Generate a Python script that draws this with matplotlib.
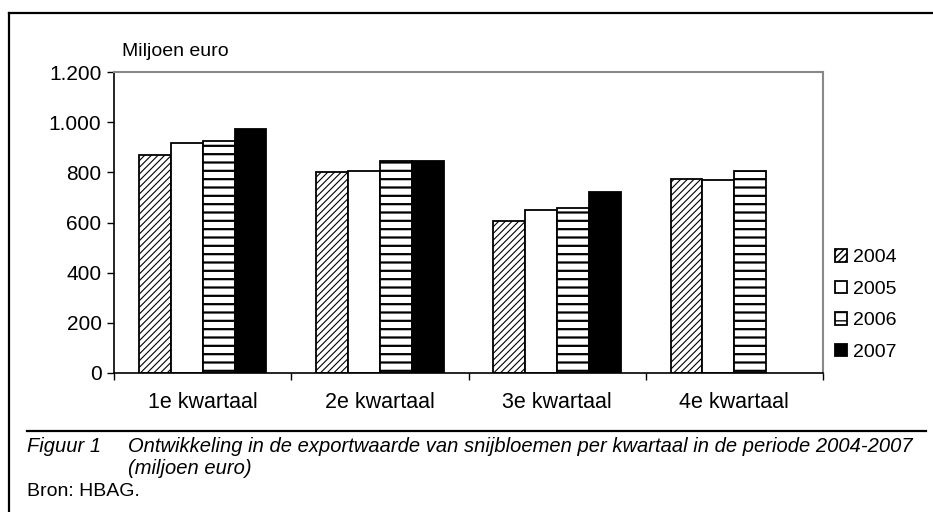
import matplotlib
matplotlib.use("Agg")
import matplotlib.pyplot as plt
from matplotlib.lines import Line2D
import numpy as np

plt.rcParams['font.family'] = ['Liberation Sans', 'DejaVu Sans']

# data (miljoen euro)
quarters = ["1e kwartaal", "2e kwartaal", "3e kwartaal", "4e kwartaal"]
years = ["2004", "2005", "2006", "2007"]
v2004 = [870, 800, 605, 775]
v2005 = [918, 805, 650, 768]
v2006 = [925, 845, 657, 806]
v2007 = [973, 845, 722, np.nan]
yticks = [0, 200, 400, 600, 800, 1000, 1200]
ytick_labels = ["0", "200", "400", "600", "800", "1.000", "1.200"]

series = [v2004, v2005, v2006, v2007]
styles = [
    dict(facecolor="white", hatch="/////", hlw=0.8),
    dict(facecolor="white", hatch=None, hlw=1.0),
    dict(facecolor="white", hatch="--", hlw=1.6),
    dict(facecolor="black", hatch=None, hlw=1.0),
]

W, H = 933, 512
fig = plt.figure(figsize=(W / 100, H / 100), dpi=100)
ax = fig.add_axes([114 / W, 1 - 373 / H, (823 - 114) / W, (373 - 72) / H])

x = np.arange(len(quarters))
bw = 0.18
handles = []
for i, (vals, st) in enumerate(zip(series, styles)):
    with plt.rc_context({'hatch.linewidth': st["hlw"], 'hatch.color': 'black'}):
        bars = ax.bar(x + (i - 1.5) * bw, vals, width=bw, facecolor=st["facecolor"],
                      edgecolor="black", linewidth=1.3, hatch=st["hatch"])
    handles.append(bars)

ax.set_xlim(-0.5, 3.5)
ax.set_ylim(0, 1200)
ax.set_yticks(yticks)
ax.set_yticklabels(ytick_labels, fontsize=15)
ax.set_xticks(x)
ax.set_xticklabels(quarters, fontsize=15.5)
ax.tick_params(axis='x', length=0, pad=14)
ax.tick_params(axis='y', length=5, width=1, direction='out', pad=4)
# category separators on x axis
ax.set_xticks(np.arange(-0.5, 4.0, 1.0), minor=True)
ax.tick_params(axis='x', which='minor', length=5, width=1, direction='out')

for s in ["left", "bottom"]:
    ax.spines[s].set_color("black")
    ax.spines[s].set_linewidth(1.2)
for s in ["top", "right"]:
    ax.spines[s].set_color("#888888")
    ax.spines[s].set_linewidth(1.5)

fig.text(122 / W, 1 - 52 / H, "Miljoen euro", fontsize=14, va="center", ha="left")

leg = ax.legend(handles, years, loc="center left", bbox_to_anchor=(835 / W, 1 - 305 / H),
                bbox_transform=fig.transFigure, frameon=False, fontsize=14,
                borderpad=0, borderaxespad=0,
                handlelength=0.62, handleheight=0.62, handletextpad=0.3, labelspacing=0.74)

# outer frame (left + top) and caption rule
fig.add_artist(Line2D([9 / W, 9 / W], [0, 1 - 13 / H], color="black", lw=1.6))
fig.add_artist(Line2D([9 / W, 1.0], [1 - 13 / H, 1 - 13 / H], color="black", lw=1.6))
fig.add_artist(Line2D([27 / W, 926 / W], [1 - 431 / H, 1 - 431 / H], color="black", lw=1.6))

fig.text(27 / W, 1 - 447 / H, "Figuur 1", fontsize=14.5, style="italic", va="center")
fig.text(128 / W, 1 - 447 / H,
         "Ontwikkeling in de exportwaarde van snijbloemen per kwartaal in de periode 2004-2007",
         fontsize=14.5, style="italic", va="center")
fig.text(128 / W, 1 - 469 / H, "(miljoen euro)", fontsize=14.5, style="italic", va="center")
fig.text(27 / W, 1 - 492 / H, "Bron: HBAG.", fontsize=14, va="center")

fig.savefig("out.png", dpi=100)
